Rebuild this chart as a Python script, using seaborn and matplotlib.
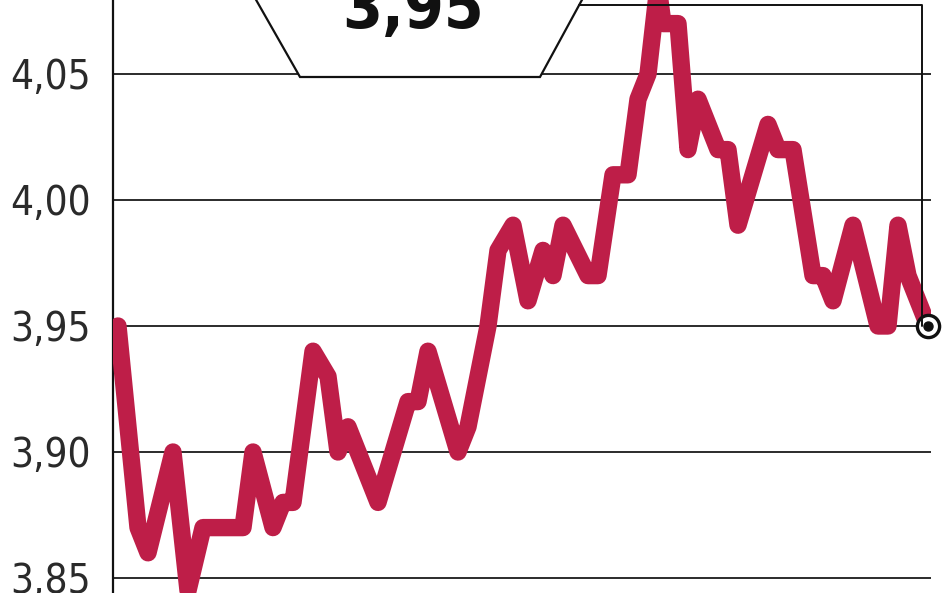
import seaborn as sns
import pandas as pd
import matplotlib.pyplot as plt
from matplotlib.patches import Polygon
from matplotlib.lines import Line2D
from matplotlib.ticker import FuncFormatter

# Exchange rate path (day index, rate)
day = [0, 4, 6, 11, 14, 17, 25, 27, 31, 33, 35, 39, 42, 44, 46, 52, 58, 60, 62,
       68, 70, 74, 76, 79, 82, 85, 87, 89, 94, 96, 99, 102, 104, 106, 108, 109,
       112, 114, 116, 120, 122, 124, 130, 132, 135, 139, 141, 143, 147, 152,
       154, 156, 158, 162]
rate = [3.95, 3.87, 3.86, 3.90, 3.845, 3.87, 3.87, 3.90, 3.87, 3.88, 3.88, 3.94,
        3.93, 3.90, 3.91, 3.88, 3.92, 3.92, 3.94, 3.90, 3.91, 3.95, 3.98, 3.99,
        3.96, 3.98, 3.97, 3.99, 3.97, 3.97, 4.01, 4.01, 4.04, 4.05, 4.085, 4.07,
        4.07, 4.02, 4.04, 4.02, 4.02, 3.99, 4.03, 4.02, 4.02, 3.97, 3.97, 3.96,
        3.99, 3.95, 3.95, 3.99, 3.97, 3.95]
yticks = [3.85, 3.90, 3.95, 4.00, 4.05]
last_label = "3,95"

df = pd.DataFrame({"day": day, "rate": rate})

sns.set_theme(style="white")
plt.rcParams["font.family"] = ["DejaVu Sans"]
plt.rcParams["font.stretch"] = "condensed"

W, H = 948, 593
fig = plt.figure(figsize=(W / 100, H / 100), dpi=100)
ax = fig.add_axes([113 / W, 0, (931 - 113) / W, 1])

def fx(px):
    return px / W

def fy(py):
    return 1 - py / H

# grid lines
for t in yticks:
    ax.axhline(t, color="#1a1a1a", lw=1.3, zorder=1)

sns.lineplot(data=df, x="day", y="rate", ax=ax, color="#BE1E48", lw=12.5,
             solid_joinstyle="round", solid_capstyle="round", zorder=3)

# end marker
ax.plot(day[-1], rate[-1], "o", ms=16, mfc="white", mec="#111", mew=2.4,
        zorder=5, clip_on=False)
ax.plot(day[-1], rate[-1], "o", ms=6.5, color="#111", zorder=6, clip_on=False)

ax.set_xlim(-1, 162.6)
ax.set_ylim(3.85 - 15 / 2520, 3.85 + 578 / 2520)
ax.set_yticks(yticks)
ax.yaxis.set_major_formatter(FuncFormatter(lambda v, p: f"{v:.2f}".replace(".", ",")))
ax.tick_params(axis="y", length=0, pad=16, labelsize=29, labelcolor="#2a2a2a")
for lab in ax.get_yticklabels():
    lab.set_fontweight("light")
    lab.set_fontstretch("condensed")
ax.set_xticks([])
ax.set_xlabel("")
ax.set_ylabel("")
for s in ["top", "right", "bottom"]:
    ax.spines[s].set_visible(False)
ax.spines["left"].set_color("#111")
ax.spines["left"].set_linewidth(1.6)

# label box at the top
box = Polygon([(fx(255), fy(-2)), (fx(300), fy(77)), (fx(540), fy(77)),
               (fx(583), fy(-2))], closed=False, facecolor="white",
              edgecolor="#111", lw=1.6, transform=fig.transFigure, zorder=2)
fig.add_artist(box)
fig.add_artist(Line2D([fx(579), fx(922), fx(922)], [fy(5), fy(5), fy(326)],
                      color="#111", lw=1.4, transform=fig.transFigure, zorder=2))
ax.set_zorder(1)
fig.text(fx(413), fy(28), last_label, ha="center", va="baseline",
         fontsize=46, fontweight="bold", fontstretch="condensed", color="#111",
         zorder=4)

fig.savefig("out.png", dpi=100, facecolor="white")
